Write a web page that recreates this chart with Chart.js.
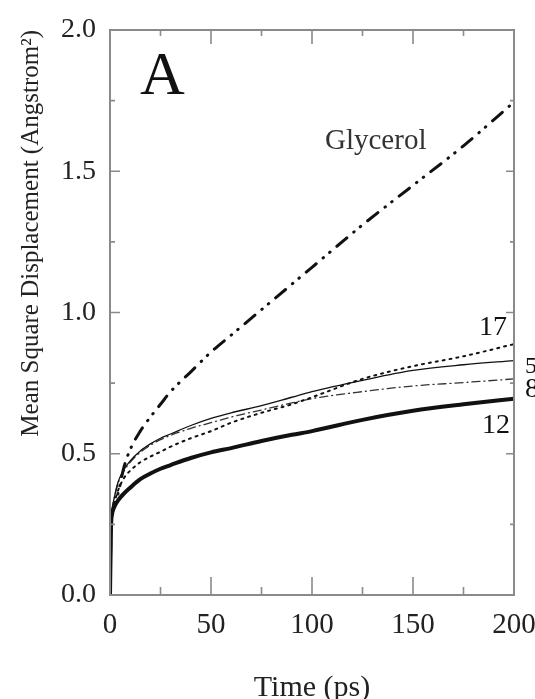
<!DOCTYPE html>
<html>
<head>
<meta charset="utf-8">
<script src="https://cdn.jsdelivr.net/npm/chart.js@4.4.1/dist/chart.umd.min.js"></script>
<style>
  html, body { margin: 0; padding: 0; background: #fff; }
</style>
</head>
<body>
<canvas id="msd" width="535" height="699"></canvas>
<script>
// time axis (ps) shared by every curve
const timePs   = [0, 0.5, 1, 2, 4, 7, 10, 15, 20, 25, 30, 40, 50, 60, 75, 90, 100, 125, 150, 175, 200];
// mean square displacement (Angstrom^2)
const glycerol = [0, 0.24, 0.29, 0.31, 0.36, 0.455, 0.515, 0.58, 0.63, 0.675, 0.72, 0.79, 0.86, 0.92, 1.01, 1.10, 1.16, 1.31, 1.45, 1.59, 1.745];
const run17    = [0, 0.24, 0.28, 0.32, 0.37, 0.415, 0.44, 0.47, 0.49, 0.507, 0.525, 0.555, 0.58, 0.61, 0.645, 0.675, 0.70, 0.765, 0.81, 0.845, 0.888];
const run5     = [0, 0.25, 0.30, 0.34, 0.40, 0.445, 0.475, 0.51, 0.535, 0.555, 0.57, 0.60, 0.625, 0.645, 0.67, 0.70, 0.72, 0.76, 0.795, 0.815, 0.83];
const run8     = [0, 0.25, 0.30, 0.34, 0.395, 0.44, 0.47, 0.505, 0.53, 0.55, 0.565, 0.59, 0.61, 0.63, 0.655, 0.68, 0.695, 0.72, 0.74, 0.752, 0.765];
const run12    = [0, 0.24, 0.285, 0.31, 0.335, 0.36, 0.38, 0.41, 0.43, 0.447, 0.46, 0.485, 0.505, 0.52, 0.545, 0.567, 0.58, 0.62, 0.652, 0.675, 0.695];

const xMinor = [25, 75, 125, 175];
const xMajor = [50, 100, 150];
const yMinor = [0.25, 0.75, 1.25, 1.75];
const yMajor = [0.5, 1.0, 1.5];

const axisGray = '#8a8a8a';
const ink = '#111';
const serif = '"Liberation Serif", "Times New Roman", serif';

function pts(vals) {
  return timePs.map((t, i) => ({ x: t, y: vals[i] }));
}

function line(label, vals, width, dash, color) {
  return {
    label,
    data: pts(vals),
    borderColor: color || ink,
    borderWidth: width,
    borderDash: dash,
    borderCapStyle: 'round',
    pointRadius: 0,
    fill: false,
    cubicInterpolationMode: 'monotone'
  };
}

// inward ticks + closed frame
const frameTicks = {
  id: 'frameTicks',
  afterDatasetsDraw(chart) {
    const { ctx, chartArea: a, scales: { x, y } } = chart;
    ctx.save();
    ctx.strokeStyle = axisGray;
    ctx.lineWidth = 2;
    ctx.strokeRect(a.left, a.top, a.right - a.left, a.bottom - a.top);
    ctx.lineWidth = 1.6;
    ctx.beginPath();
    xMajor.concat(xMinor).forEach(v => {
      const px = x.getPixelForValue(v);
      const major = xMajor.includes(v);
      ctx.moveTo(px, a.bottom); ctx.lineTo(px, a.bottom - (major ? 18 : 8));
      ctx.moveTo(px, a.top); ctx.lineTo(px, a.top + (major ? 14 : 6));
    });
    yMajor.concat(yMinor).forEach(v => {
      const py = y.getPixelForValue(v);
      const major = yMajor.includes(v);
      ctx.moveTo(a.left, py); ctx.lineTo(a.left + (major ? 10 : 5), py);
      ctx.moveTo(a.right, py); ctx.lineTo(a.right - (major ? 8 : 4), py);
    });
    ctx.stroke();
    ctx.restore();
  },
  afterDraw(chart) {
    const { ctx } = chart;
    ctx.save();
    ctx.fillStyle = ink;
    ctx.textBaseline = 'alphabetic';
    ctx.textAlign = 'left';
    ctx.font = '62px ' + serif;
    ctx.fillText('A', 140, 94);
    ctx.font = '29px ' + serif;
    ctx.fillStyle = '#333';
    ctx.fillText('Glycerol', 325, 149);
    ctx.fillStyle = ink;
    ctx.font = '28px ' + serif;
    ctx.textAlign = 'right';
    ctx.fillText('17', 507, 335);
    ctx.fillText('12', 510, 433);
    ctx.textAlign = 'left';
    ctx.font = '24px ' + serif;
    ctx.fillText('5', 525, 373);
    ctx.font = '28px ' + serif;
    ctx.fillText('8', 525, 397);
    ctx.restore();
  }
};

new Chart(document.getElementById('msd'), {
  type: 'line',
  data: {
    datasets: [
      line('Glycerol', glycerol, 3, [13, 9, 0.5, 8, 0.5, 9]),
      line('17', run17, 2, [2, 5]),
      line('5', run5, 1.3, []),
      line('8', run8, 1.3, [8, 4, 1, 4], '#333'),
      line('12', run12, 4, [])
    ]
  },
  options: {
    responsive: false,
    animation: false,
    layout: { padding: { left: 0, right: 21, top: 30, bottom: 0 } },
    plugins: { legend: { display: false }, tooltip: { enabled: false } },
    scales: {
      x: {
        type: 'linear',
        min: 0, max: 200,
        grid: { display: false, drawTicks: false },
        border: { display: false },
        ticks: {
          stepSize: 50, padding: 13, color: '#222',
          font: { family: serif, size: 29 },
          maxRotation: 0
        },
        title: {
          display: true, text: 'Time (ps)', color: '#222',
          font: { family: serif, size: 30, lineHeight: 1 },
          padding: { top: 0, bottom: -4 }
        },
        afterFit(s) { s.height = 104; s.paddingLeft = 0; s.paddingRight = 0; }
      },
      y: {
        type: 'linear',
        min: 0, max: 2,
        grid: { display: false, drawTicks: false },
        border: { display: false },
        ticks: {
          stepSize: 0.5, padding: 14, color: '#222',
          font: { family: serif, size: 28 },
          callback: v => v.toFixed(1)
        },
        title: {
          display: true, text: 'Mean Square Displacement (Angstrom\u00b2)', color: '#222',
          align: 'end',
          font: { family: serif, size: 25, lineHeight: 1.2 },
          padding: { top: 16, bottom: 0 }
        },
        afterFit(s) { s.width = 110; s.paddingTop = 0; s.paddingBottom = 0; }
      }
    }
  },
  plugins: [frameTicks]
});
</script>
</body>
</html>
